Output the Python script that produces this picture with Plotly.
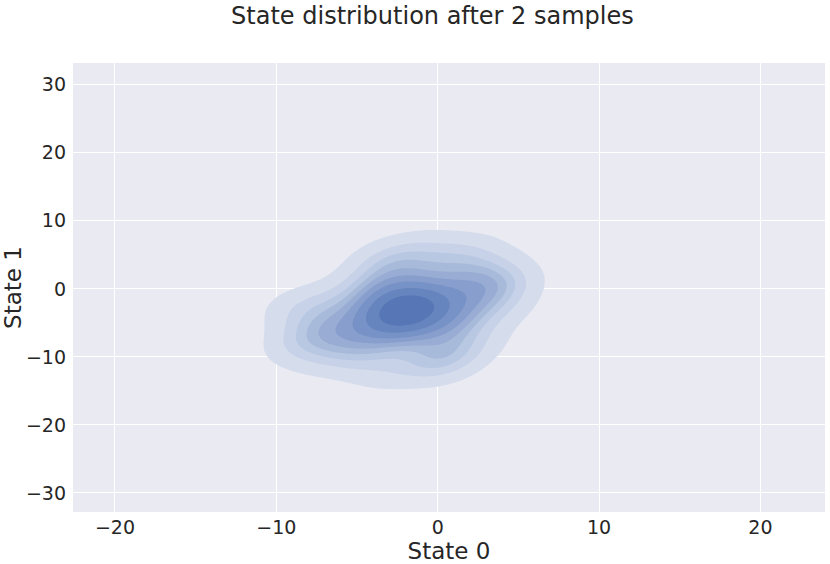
import numpy as np
import plotly.graph_objects as go

# Samples of the two states
state0 = [-2.1, -1.5, -2.8, -0.9, -3.4, -1.8, -2.5, 0.3, -4.6, -1.2,
          1.5, -5.8, -2.9, 0.8, -3.7, 2.4, -6.5, -0.4, -4.1, -1.0,
          3.3, -7.2, -2.3, 1.1, -5.0, -0.1, -3.2, 4.2, -8.0, -1.6,
          2.0, -4.4, 0.5, -6.1, -2.6, -3.9, 1.8, -0.7, -5.4, 3.0,
          -2.0, -1.4, -3.0, -0.5, -2.4, -1.9, -8.4, 4.6, -3.0, 0.9,
          -3.5, -1.2, 0.5, 2.5, 2.2, 3.6, -7.0, -8.6, -9.0, 1.0]
state1 = [-3.0, -2.2, -4.1, -1.5, -3.8, -5.0, -1.2, -0.8, -6.2, -3.6,
          0.9, -4.5, -7.3, -4.4, 0.6, -1.9, -7.0, 2.8, -2.0, -6.8,
          0.5, -5.0, 4.1, -2.7, -9.4, -8.9, -0.1, -3.0, -3.5, 1.3,
          2.6, -10.6, -6.1, -1.1, -5.9, 2.4, -5.3, -11.0, -7.0, -0.3,
          -2.5, -4.3, -2.9, -3.2, -1.9, -3.8, -7.0, 0.5, -12.5, 5.5,
          4.8, 6.0, -11.5, -8.0, 5.0, 2.8, -10.0, -8.6, -2.2, -10.0]

# iso-proportion levels as in seaborn kdeplot (thresh 0.05, 10 levels)
proportions = np.linspace(0.05, 1, 10)

band_colors = ["#d5dded", "#c7d2e8", "#b8c7e2", "#a8bada", "#98acd4",
               "#889fcd", "#7792c6", "#6685bf", "#5676b6"]

# --- gaussian kde (scott bandwidth) ---
data = np.vstack([state0, state1])
n = data.shape[1]
factor = n ** (-1 / 6)
cov = np.cov(data) * factor ** 2
inv = np.linalg.inv(cov)
norm = 2 * np.pi * np.sqrt(np.linalg.det(cov)) * n
bw = np.sqrt(np.diag(cov))

gx = np.linspace(data[0].min() - 3 * bw[0], data[0].max() + 3 * bw[0], 200)
gy = np.linspace(data[1].min() - 3 * bw[1], data[1].max() + 3 * bw[1], 200)
XX, YY = np.meshgrid(gx, gy)
dens = np.zeros_like(XX)
for px_, py_ in zip(data[0], data[1]):
    dx = XX - px_
    dy = YY - py_
    dens += np.exp(-0.5 * (inv[0, 0] * dx * dx + 2 * inv[0, 1] * dx * dy + inv[1, 1] * dy * dy))
dens /= norm

# density value for each proportion
sv = np.sort(dens.ravel())[::-1]
cum = np.cumsum(sv) / sv.sum()
levels = np.take(sv, np.searchsorted(cum, 1 - proportions), mode="clip")

# map density to band index so plotly can use evenly spaced contours
t = np.interp(dens, np.concatenate([[0], levels]), np.arange(-1, 10))

cscale = [[0, "rgba(0,0,0,0)"], [0.1, "rgba(0,0,0,0)"]]
for i, c in enumerate(band_colors):
    cscale.append([(i + 1) / 10, c])
    cscale.append([(i + 2) / 10, c])

fig = go.Figure(go.Contour(
    x=gx, y=gy, z=t,
    zmin=-1, zmax=9, zauto=False,
    contours=dict(start=0, end=8, size=1, coloring="fill"),
    colorscale=cscale,
    line=dict(width=0),
    showscale=False,
    hoverinfo="skip",
))

xt = [-20, -10, 0, 10, 20]
yt = [-30, -20, -10, 0, 10, 20, 30]

fig.update_layout(
    width=830, height=564,
    margin=dict(l=73, r=5, t=63, b=52),
    paper_bgcolor="white",
    plot_bgcolor="#eaeaf2",
    font=dict(family="DejaVu Sans", size=19, color="#262626"),
    title=dict(text="State distribution after 2 samples", x=0.521, xref="container",
               y=0.972, yref="container", xanchor="center", yanchor="middle",
               font=dict(size=24), automargin=False),
    showlegend=False,
)
fig.update_xaxes(range=[-22.6, 24.0], tickvals=xt,
                 ticktext=[str(v).replace("-", "\u2212") for v in xt],
                 showgrid=True, gridcolor="white", gridwidth=1.3, zeroline=False,
                 ticks="", ticklabelstandoff=2, showline=False, automargin=False,
                 title=dict(text="State 0", standoff=8))
fig.update_yaxes(range=[-32.8, 33.2], tickvals=yt,
                 ticktext=[str(v).replace("-", "\u2212") for v in yt],
                 showgrid=True, gridcolor="white", gridwidth=1.3, zeroline=False,
                 ticks="", ticklabelstandoff=6, showline=False, automargin=False,
                 title=dict(text="State 1", standoff=13))

# drop the default body margin so the figure fills the window
fig.write_html("out.html", config={"displayModeBar": False},
               post_script="document.body.style.margin='0';")
